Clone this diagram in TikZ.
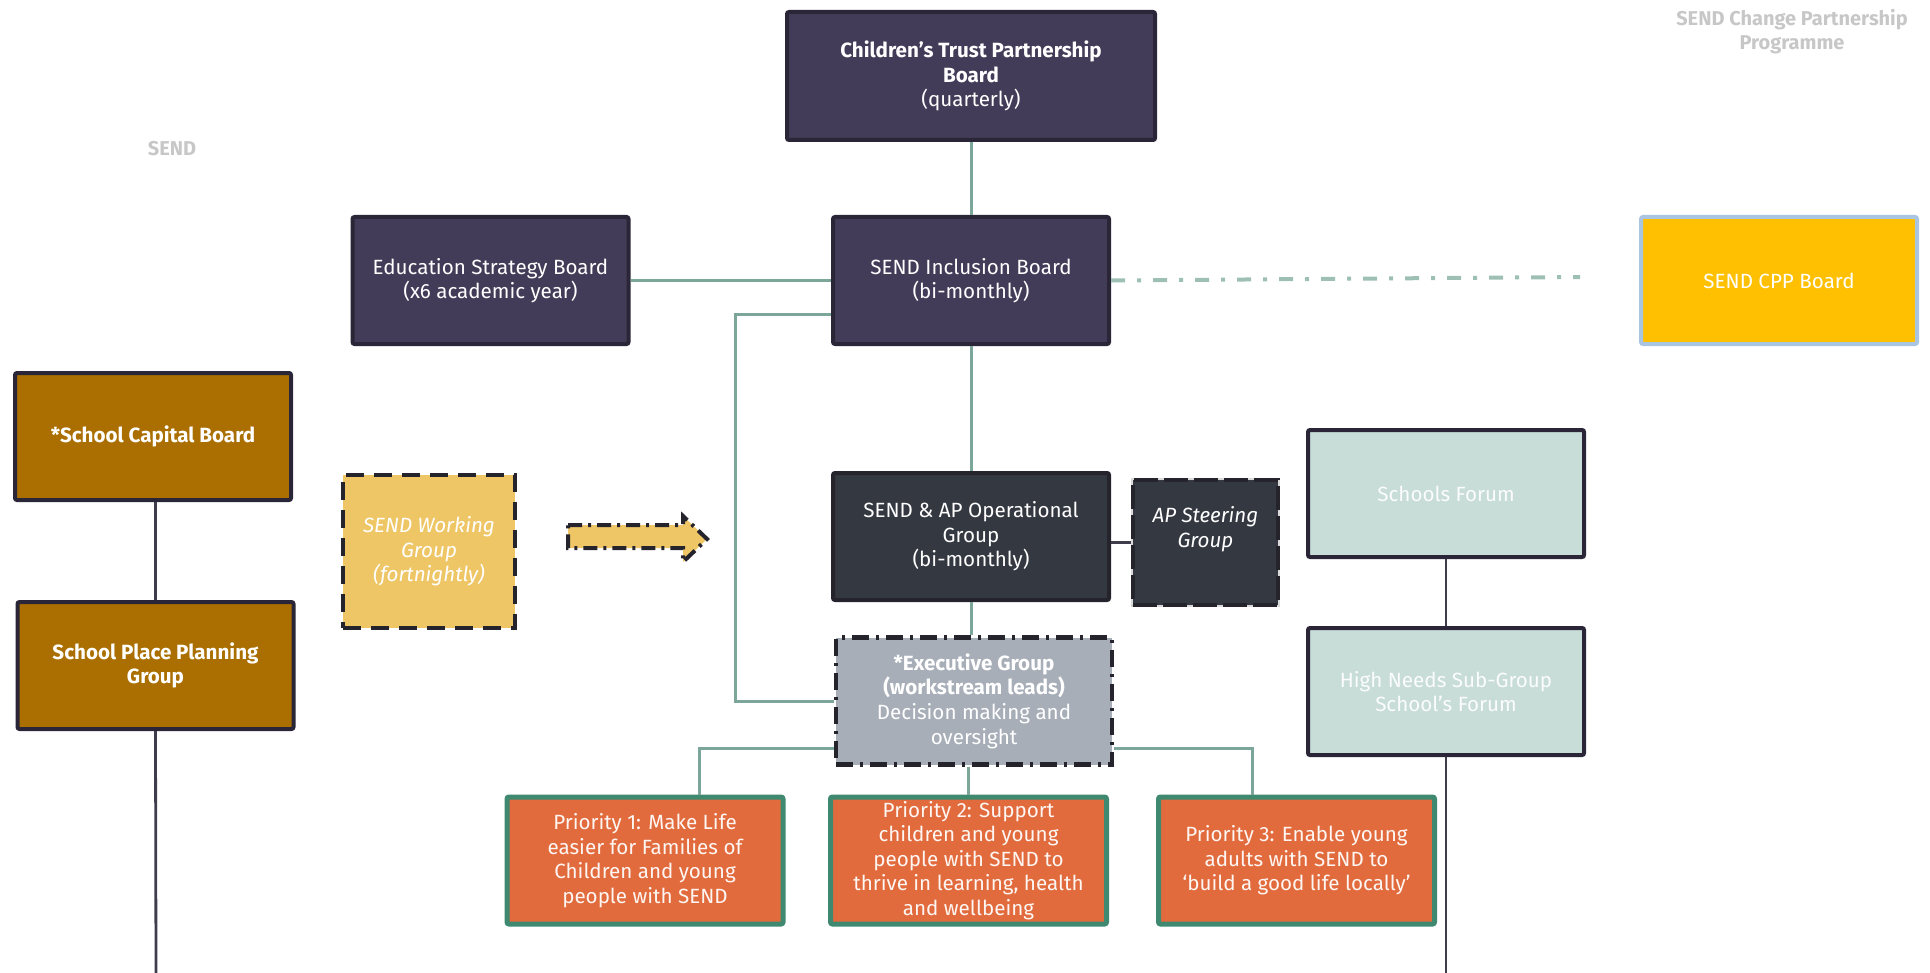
\documentclass[tikz,border=0pt]{standalone}
\usepackage{fontspec}
\setmainfont{Fira Sans}
\definecolor{boardpurple}{HTML}{433C58}
\definecolor{boardedge}{HTML}{2A2637}
\definecolor{opsgrey}{HTML}{343841}
\definecolor{execgrey}{HTML}{A7AEB8}
\definecolor{prioorange}{HTML}{E26B3D}
\definecolor{prioedge}{HTML}{3F8971}
\definecolor{capbrown}{HTML}{AA6F00}
\definecolor{workgold}{HTML}{EEC666}
\definecolor{cppyellow}{HTML}{FEC000}
\definecolor{cppedge}{HTML}{A9C5E2}
\definecolor{forumgreen}{HTML}{C8DDD8}
\definecolor{linkgreen}{HTML}{7DA69A}
\definecolor{dashgreen}{HTML}{9DBFB4}
\definecolor{dashblack}{HTML}{25232C}

\begin{document}
\begin{tikzpicture}[x=0.5pt,y=-0.5pt,
	box/.style={inner sep=0pt,align=center,rounded corners=1pt,line width=2pt,text=white,
		font=\fontsize{10.3}{12.3}\selectfont,minimum width=138pt,minimum height=63.5pt},
	board/.style={box,fill=boardpurple,draw=boardedge},
	cppbox/.style={box,fill=cppyellow,draw=cppedge},
	capital/.style={box,fill=capbrown,draw=boardedge,font=\fontsize{10.3}{12.3}\selectfont\bfseries},
	working/.style={box,fill=workgold,draw=dashblack,rounded corners=0pt,dash pattern=on 9pt off 5pt,
		font=\fontsize{10.3}{12.3}\selectfont\itshape,minimum width=86pt,minimum height=76.5pt},
	ops/.style={box,fill=opsgrey,draw=dashblack},
	steering/.style={box,fill=opsgrey,draw=dashblack,rounded corners=0pt,dash pattern=on 12pt off 3pt,
		preaction={draw=black!15,solid},font=\fontsize{10.3}{12.3}\selectfont\itshape,
		minimum width=72.5pt,minimum height=62.5pt},
	exec/.style={box,fill=execgrey,draw=dashblack,rounded corners=0pt,line width=2.2pt,
		dash pattern=on 8.5pt off 3.5pt on 1.5pt off 3.5pt},
	forum/.style={box,fill=forumgreen,draw=boardedge,text=white!92!forumgreen},
	priority/.style={box,fill=prioorange,draw=prioedge,line width=2.5pt,text=white!94!prioorange},
	faint/.style={align=center,inner sep=0pt,text=black!22,font=\fontsize{10}{12}\selectfont\bfseries},
	link/.style={draw=linkgreen,line width=1.5pt},
	darklink/.style={draw=boardedge!90,line width=1.4pt},
	dashlink/.style={draw=dashgreen,line width=2pt,dash pattern=on 7pt off 6pt on 2pt off 6pt}]
	\useasboundingbox (0,0) rectangle (1930,973);
	\node[faint] (title) at (1792,32) {SEND Change Partnership\\Programme};
	\node[faint] (sendtag) at (172,149) {SEND};
	\node[board,minimum width=184pt,minimum height=64pt] (trust) at (971,76) {\textbf{Children’s Trust Partnership}\\\textbf{Board}\\(quarterly)};
	\node[board] (strategy) at (490.5,280.5) {Education Strategy Board\\(x6 academic year)};
	\node[board] (inclusion) at (971,280.5) {SEND Inclusion Board\\(bi-monthly)};
	\node[cppbox] (cpp) at (1779,280.5) {SEND CPP Board};
	\node[capital] (capital) at (153,436.5) {*School Capital Board};
	\node[capital] (places) at (155.5,665.5) {School Place Planning\\Group};
	\node[working] (working) at (429,551.5) {SEND Working\\Group\\(fortnightly)};
	\node[ops] (ops) at (971,536.5) {SEND \& AP Operational\\Group\\(bi-monthly)};
	\node[steering] (steering) at (1205.5,542.5) {AP Steering\\Group\\[3pt]};
	\node[forum] (forum) at (1446,493.5) {Schools Forum};
	\node[forum] (needs) at (1446,691.5) {High Needs Sub-Group\\School’s Forum};
	\node[exec] (exec) at (974,701) {\textbf{*Executive Group}\\\textbf{(workstream leads)}\\Decision making and\\oversight};
	\node[priority] (prio1) at (645,860.5) {Priority 1: Make Life\\easier for Families of\\Children and young\\people with SEND};
	\node[priority] (prio2) at (968.5,860.5) {Priority 2: Support\\children and young\\people with SEND to\\thrive in learning, health\\and wellbeing};
	\node[priority] (prio3) at (1296.5,860.5) {Priority 3: Enable young\\adults with SEND to\\‘build a good life locally’};
	\draw[working,dash pattern=on 7pt off 3pt on 1.5pt off 3pt] (568,525) -- (683,525) -- (683,516) -- (707,539) -- (683,562) -- (683,548) -- (568,548) -- cycle;
	\coordinate (cppend) at (1580,277);
	\coordinate (placesfoot) at (156,973);
	\coordinate (needsfoot) at (1446,973);
	\draw[link] (trust) -- (inclusion);
	\draw[link] (strategy) -- (inclusion);
	\draw[link] ([yshift=-16.75pt]inclusion.west) -- ++(-96,0) |- (exec.west);
	\draw[link] (inclusion) -- (ops);
	\draw[link] (ops.south) -- (ops.south |- exec.north);
	\draw[link] (prio2.north |- exec.south) -- (prio2.north);
	\draw[link] ([yshift=-23.5pt]exec.west) -| ([xshift=27pt]prio1.north);
	\draw[link] ([yshift=-23.5pt]exec.east) -| ([xshift=-22pt]prio3.north);
	\draw[darklink] (ops.east |- steering.west) -- (steering.west);
	\draw[dashlink] (inclusion.east) -- (cppend);
	\draw[darklink] (places.north |- capital.south) -- (places.north);
	\draw[darklink] (places.south) -- (placesfoot);
	\draw[darklink] (forum) -- (needs);
	\draw[darklink] (needs) -- (needsfoot);
\end{tikzpicture}
\end{document}
